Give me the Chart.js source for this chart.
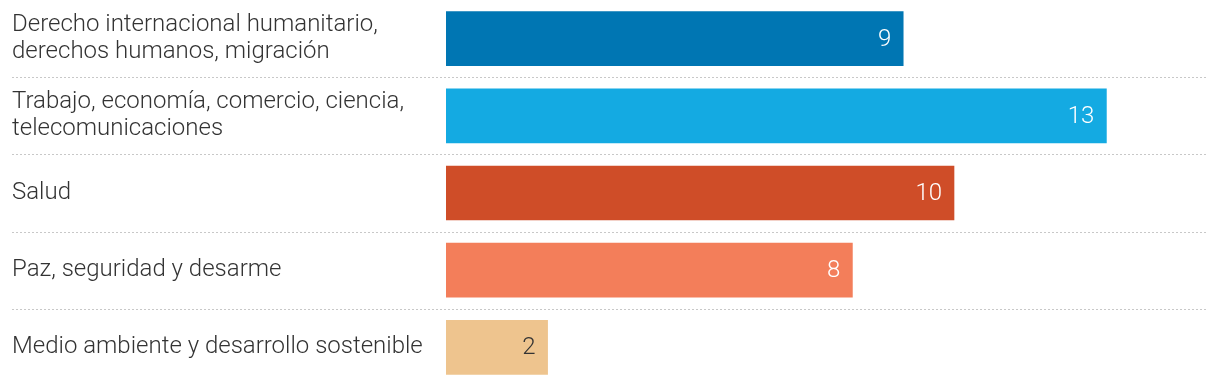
<!DOCTYPE html>
<html>
<head>
<meta charset="utf-8">
<script src="https://cdn.jsdelivr.net/npm/chart.js@4"></script>
<style>
  html, body { margin: 0; padding: 0; background: #fff; }
  #wrap { width: 1220px; height: 386px; position: relative; }
</style>
</head>
<body>
<div id="wrap"><canvas id="chart"></canvas></div>
<script>
const categories = [
    ['Derecho internacional humanitario,', 'derechos humanos, migración'],
    ['Trabajo, economía, comercio, ciencia,', 'telecomunicaciones'],
    'Salud',
    'Paz, seguridad y desarme',
    'Medio ambiente y desarrollo sostenible',
];
const counts = [9, 13, 10, 8, 2];
const barColors = ['#0076B3', '#14AAE2', '#CF4D28', '#F37E5A', '#EEC48E'];
const valueColors = ['#ffffff', '#ffffff', '#ffffff', '#ffffff', '#333333'];

const fontFamily = 'Roboto, "Noto Sans", sans-serif';

// dotted separators between rows, spanning under the labels too
const rowSeparators = {
    id: 'rowSeparators',
    beforeDatasetsDraw: (chart) => {
        const { ctx, chartArea, scales } = chart;
        const y = scales.y;
        ctx.save();
        ctx.setLineDash([2, 2]);
        ctx.strokeStyle = '#c8c8c8';
        ctx.lineWidth = 1;
        for (let i = 0; i < categories.length - 1; i++) {
            const mid = Math.round((y.getPixelForValue(i) + y.getPixelForValue(i + 1)) / 2) + 0.5;
            ctx.beginPath();
            ctx.moveTo(12, mid);
            ctx.lineTo(chartArea.right, mid);
            ctx.stroke();
        }
        ctx.restore();
    },
};

// value labels inside the bar end
const valueLabels = {
    id: 'valueLabels',
    afterDatasetsDraw: (chart) => {
        const { ctx } = chart;
        const meta = chart.getDatasetMeta(0);
        ctx.save();
        ctx.font = `300 24px ${fontFamily}`;
        ctx.textAlign = 'right';
        ctx.textBaseline = 'middle';
        meta.data.forEach((bar, i) => {
            ctx.fillStyle = valueColors[i];
            ctx.fillText(String(counts[i]), bar.x - 12, bar.y + 1);
        });
        ctx.restore();
    },
};

new Chart(document.getElementById('chart'), {
    type: 'bar',
    data: {
        labels: categories,
        datasets: [{
            data: counts,
            backgroundColor: barColors,
            borderWidth: 0,
            barThickness: 54,
        }],
    },
    options: {
        indexAxis: 'y',
        responsive: true,
        maintainAspectRatio: false,
        animation: false,
        layout: { padding: { left: 12, right: 12, top: 0, bottom: 0 } },
        plugins: {
            legend: { display: false },
            tooltip: { enabled: false },
        },
        scales: {
            x: {
                display: false,
                min: 0,
                max: 15,
            },
            y: {
                afterFit: (scale) => {
                    scale.width = 434;
                    scale.paddingTop = 0;
                    scale.paddingBottom = 0;
                },
                grid: { display: false, drawTicks: false },
                border: { display: false },
                ticks: {
                    crossAlign: 'far',
                    padding: 0,
                    color: '#333333',
                    font: { family: fontFamily, size: 24, weight: 300, lineHeight: 1.13 },
                },
            },
        },
    },
    plugins: [rowSeparators, valueLabels],
});
</script>
</body>
</html>
